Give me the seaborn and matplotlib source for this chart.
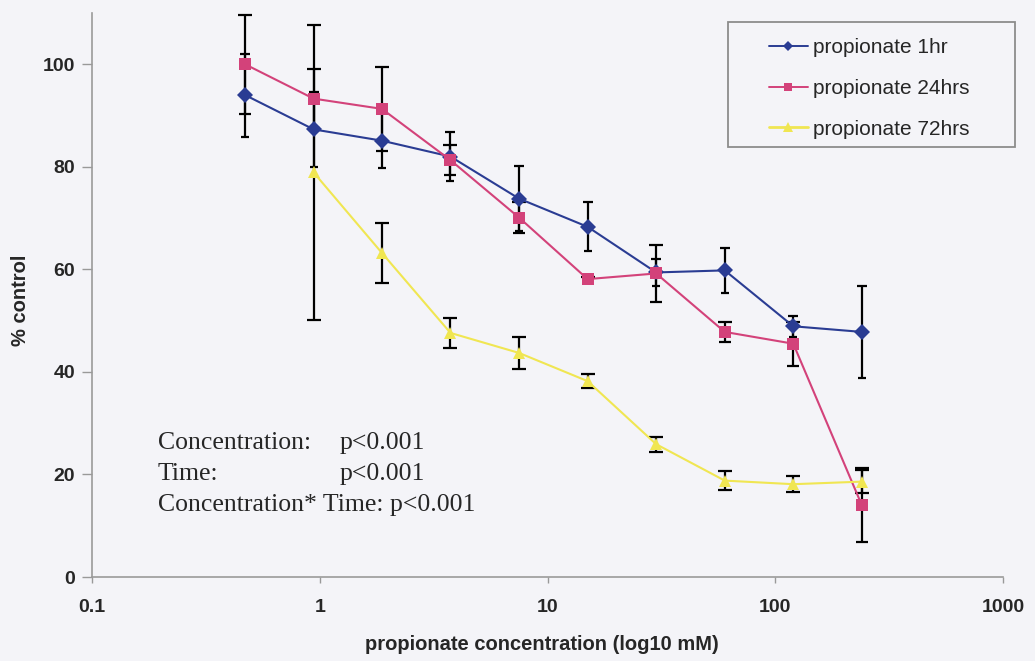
import matplotlib
matplotlib.use("Agg")
import matplotlib.pyplot as plt
from matplotlib.patches import Rectangle
import seaborn as sns
import pandas as pd
import numpy as np

conc = [0.47, 0.94, 1.875, 3.75, 7.5, 15, 30, 60, 120, 240]
series_names = ["propionate 1hr", "propionate 24hrs", "propionate 72hrs"]
vals_1hr = [94.0, 87.3, 85.1, 82.0, 73.8, 68.3, 59.4, 59.8, 48.9, 47.8]
err_1hr = [8.1, 7.3, 5.4, 4.8, 6.3, 4.8, 2.7, 4.4, 2.0, 9.0]
vals_24hrs = [100.0, 93.3, 91.3, 81.3, 70.1, 58.1, 59.2, 47.8, 45.5, 14.0]
err_24hrs = [9.7, 5.8, 8.2, 2.9, 3.0, 0.5, 5.5, 1.9, 4.3, 7.2]
conc_72 = [0.94, 1.875, 3.75, 7.5, 15, 30, 60, 120, 240]
vals_72hrs = [78.9, 63.2, 47.6, 43.7, 38.2, 25.9, 18.8, 18.1, 18.6]
err_72hrs = [28.7, 5.8, 3.0, 3.2, 1.4, 1.5, 1.85, 1.6, 2.3]
xticks = [0.1, 1, 10, 100, 1000]
xticklabels = ["0.1", "1", "10", "100", "1000"]
yticks = [0, 20, 40, 60, 80, 100]

colors = {"propionate 1hr": "#2A3C93", "propionate 24hrs": "#D3427A",
          "propionate 72hrs": "#F0E652"}
markers = {"propionate 1hr": "D", "propionate 24hrs": "s", "propionate 72hrs": "^"}
msizes = {"propionate 1hr": 6.0, "propionate 24hrs": 7.5, "propionate 72hrs": 8.5}
lwidths = {"propionate 1hr": 1.6, "propionate 24hrs": 1.6, "propionate 72hrs": 2.6}

df = pd.concat([
    pd.DataFrame({"conc": conc, "val": vals_1hr, "err": err_1hr, "series": series_names[0]}),
    pd.DataFrame({"conc": conc, "val": vals_24hrs, "err": err_24hrs, "series": series_names[1]}),
    pd.DataFrame({"conc": conc_72, "val": vals_72hrs, "err": err_72hrs, "series": series_names[2]}),
], ignore_index=True)

sns.set_style("white")
bg = "#F4F4F8"
fig = plt.figure(figsize=(10.35, 6.61), dpi=100, facecolor=bg)
ax = fig.add_axes([92/1035, 1-577/661, 911/1035, 564/661])
ax.set_facecolor(bg)

for name in series_names:
    d = df[df.series == name]
    ax.errorbar(d["conc"], d["val"], yerr=d["err"], fmt="none", ecolor="black",
                elinewidth=1.6, capsize=5, capthick=1.6, zorder=2)

sns.lineplot(data=df, x="conc", y="val", hue="series", style="series",
             hue_order=series_names, style_order=series_names,
             palette=colors, markers=markers, dashes=False, err_style=None,
             estimator=None, sort=False, ax=ax, zorder=3,
             markersize=8, markeredgewidth=0, legend=True)
for line, name in zip(ax.get_lines(), series_names):
    line.set_linewidth(lwidths[name])
    line.set_markersize(msizes[name])

ax.set_xscale("log")
ax.set_xlim(0.1, 1000)
ax.set_ylim(0, 110)
ax.set_xticks(xticks)
ax.set_xticklabels(xticklabels)
ax.xaxis.set_minor_locator(matplotlib.ticker.NullLocator())
ax.set_yticks(yticks)
for lab in ax.get_xticklabels() + ax.get_yticklabels():
    lab.set_fontweight("bold")
    lab.set_fontfamily("Liberation Sans")
    lab.set_fontsize(14)
ax.tick_params(axis="y", direction="out", length=7, width=1, color="#999999", pad=5, left=True)
ax.tick_params(axis="x", direction="out", length=4, width=1, color="#999999", pad=12, bottom=True)

for s in ["top", "right"]:
    ax.spines[s].set_visible(False)
for s in ["left", "bottom"]:
    ax.spines[s].set_color("#9A9A9A")
    ax.spines[s].set_linewidth(1.2)

ax.set_xlabel("propionate concentration (log10 mM)", fontsize=14.5, fontweight="bold",
              fontfamily="Liberation Sans")
ax.set_ylabel("% control", fontsize=14.5, fontweight="bold", fontfamily="Liberation Sans")
ax.xaxis.set_label_coords((542-92)/911, (577-635)/564)
ax.yaxis.set_label_coords((30-92)/911, (577-300)/564)

txt_kw = dict(transform=ax.transAxes, fontsize=18.5, fontfamily="Liberation Serif",
              va="center", ha="left")
ax.text(0.0725, 0.2376, "Concentration:", **txt_kw)
ax.text(0.272, 0.2376, "p<0.001", **txt_kw)
ax.text(0.0725, 0.1826, "Time:", **txt_kw)
ax.text(0.272, 0.1826, "p<0.001", **txt_kw)
ax.text(0.0725, 0.1277, "Concentration* Time: p<0.001", **txt_kw)

# legend frame
fig.patches.append(Rectangle((728/1035, 1-147/661), (1015-728)/1035, (147-22)/661,
                             transform=fig.transFigure, fill=False,
                             edgecolor="#8C8C8C", linewidth=1.3, zorder=5))
handles, labels = ax.get_legend_handles_labels()
for h, name in zip(handles, labels):
    h.set_markersize(msizes[name] * 0.85)
    h.set_linewidth(1.4 if name != "propionate 72hrs" else 2.0)
ax.legend(handles, labels, loc="upper left", bbox_to_anchor=(769/1035, 1-38/661),
          bbox_transform=fig.transFigure, frameon=False,
          prop={"family": "Liberation Sans", "size": 15},
          labelspacing=1.05, handlelength=1.85, handletextpad=0.25,
          borderpad=0, borderaxespad=0)

fig.savefig("out.png", dpi=100, facecolor=bg)
